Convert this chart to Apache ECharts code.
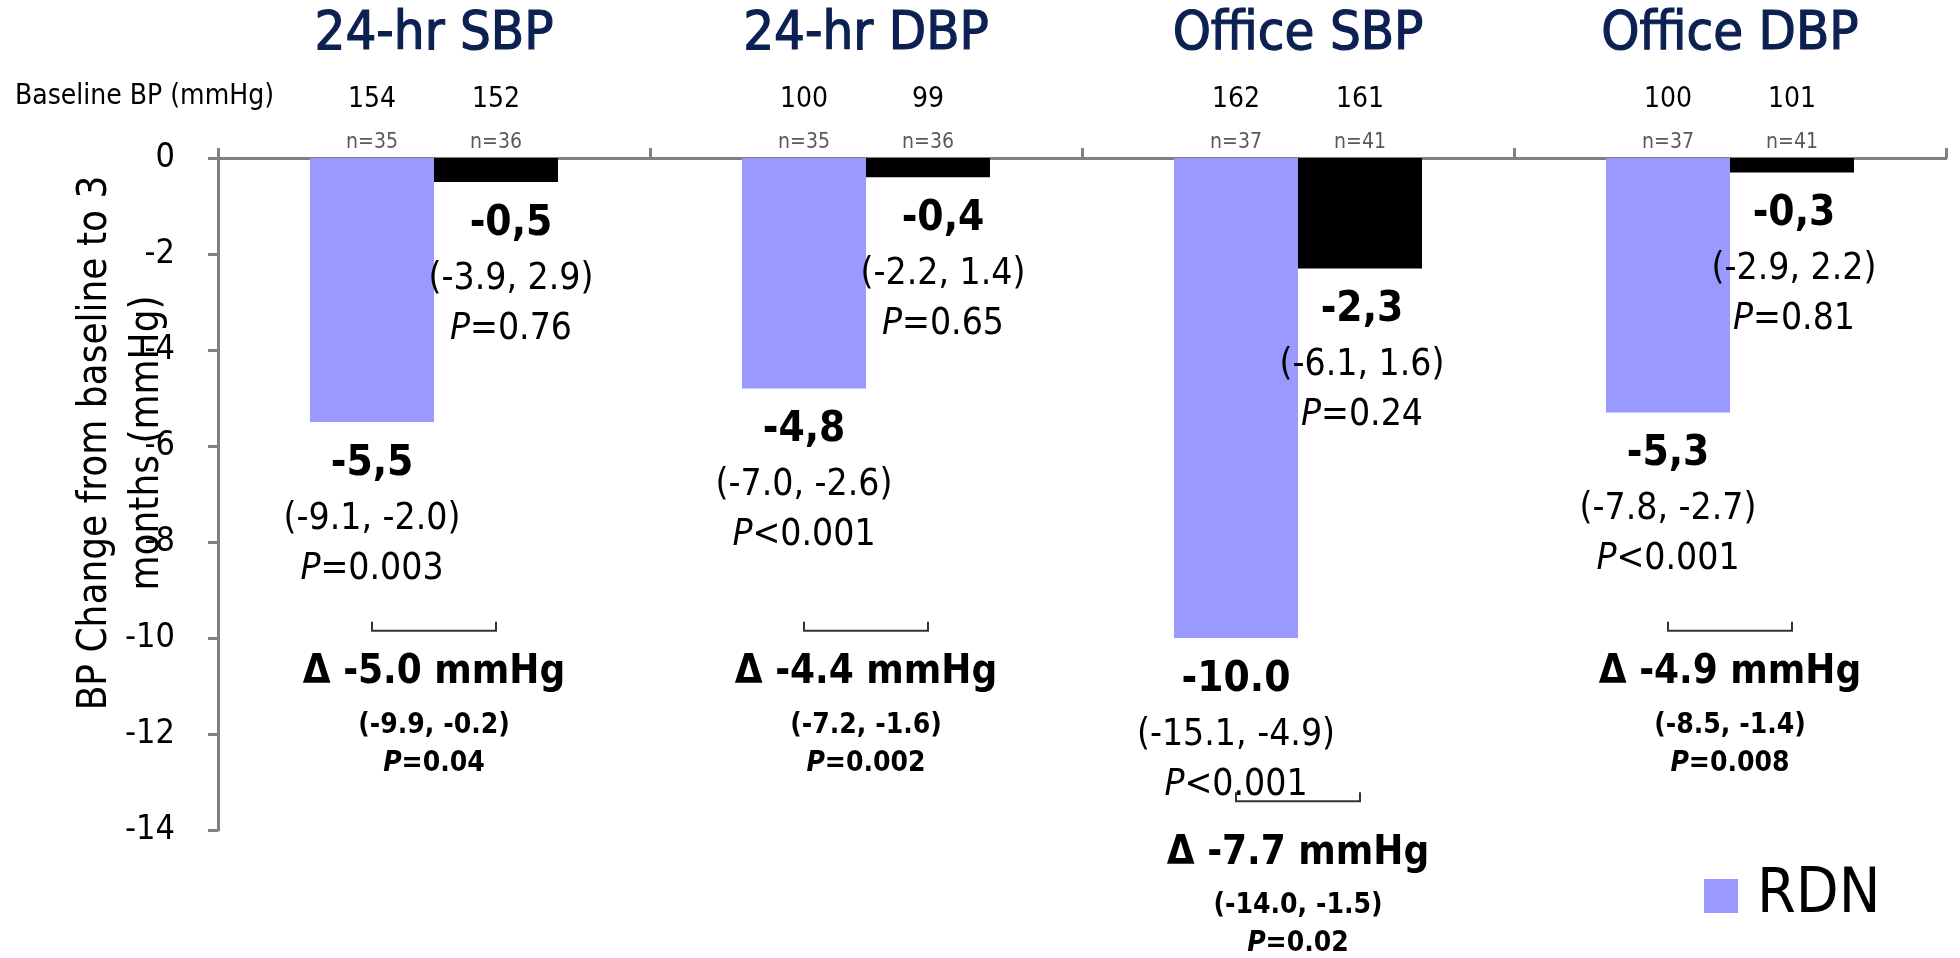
<!DOCTYPE html>
<html>
<head>
<meta charset="utf-8">
<script src="https://cdn.jsdelivr.net/npm/echarts@6/dist/echarts.min.js"></script>
<style>
  html, body { margin: 0; padding: 0; background: #ffffff; }
  #chart { width: 1960px; height: 958px; }
</style>
</head>
<body>
<div id="chart"></div>
<script>
// Blood pressure change from baseline to 3 months, RDN vs sham
const measures = ['24-hr SBP', '24-hr DBP', 'Office SBP', 'Office DBP'];
const baselineRdn = [154, 100, 162, 100];
const baselineSham = [152, 99, 161, 101];
const nRdn = [35, 35, 37, 37];
const nSham = [36, 36, 41, 41];

const rdnChangeText = ['-5,5', '-4,8', '-10.0', '-5,3'];
const shamChangeText = ['-0,5', '-0,4', '-2,3', '-0,3'];
const rdnCI = ['(-9.1, -2.0)', '(-7.0, -2.6)', '(-15.1, -4.9)', '(-7.8, -2.7)'];
const shamCI = ['(-3.9, 2.9)', '(-2.2, 1.4)', '(-6.1, 1.6)', '(-2.9, 2.2)'];
const rdnP = ['=0.003', '<0.001', '<0.001', '<0.001'];
const shamP = ['=0.76', '=0.65', '=0.24', '=0.81'];

const deltaText = ['-5.0', '-4.4', '-7.7', '-4.9'];
const deltaCI = ['(-9.9, -0.2)', '(-7.2, -1.6)', '(-14.0, -1.5)', '(-8.5, -1.4)'];
const deltaP = ['=0.04', '=0.002', '=0.02', '=0.008'];

const yMin = -14, yMax = 0, yStep = 2;

// numeric values come straight from the printed labels (decimal comma or point)
const toNum = s => parseFloat(s.replace(',', '.'));
const rdnChange = rdnChangeText.map(toNum);
const shamChange = shamChangeText.map(toNum);

const FONT = '"DejaVu Sans Condensed", "Liberation Sans Narrow", "Roboto", sans-serif';
const NAVY = '#0c2152';
const AXIS_GREY = '#808080';
const RDN_COLOR = '#9999ff';
const SHAM_COLOR = '#000000';
const BAR_FRACTION = 0.287;

function barLabel(vals, cis, ps) {
  return {
    show: true,
    position: 'bottom',
    distance: 12,
    formatter: p => `{v|${vals[p.dataIndex]}}\n{c|${cis[p.dataIndex]}}\n{i|P}{c|${ps[p.dataIndex]}}`,
    rich: {
      v: { fontFamily: FONT, fontSize: 42, fontWeight: 'bold', color: '#000', lineHeight: 60 },
      c: { fontFamily: FONT, fontSize: 37, color: '#000', lineHeight: 50 },
      i: { fontFamily: FONT, fontSize: 37, fontStyle: 'italic', color: '#000', lineHeight: 50 }
    }
  };
}

function txt(text, x, y, font, fill, rich) {
  const style = { text, x, y, align: 'center', verticalAlign: 'middle', textAlign: 'center', textVerticalAlign: 'middle', font, fill: fill || '#000' };
  if (rich) style.rich = rich;
  return { type: 'text', style };
}

// per-category header: baseline BP and group sizes above each bar
function renderHeader(params, api) {
  const i = api.value(0);
  const c = api.coord([i, 0]);
  const band = api.coord([1, 0])[0] - api.coord([0, 0])[0];
  const bw = band * BAR_FRACTION;
  const xr = c[0] - bw / 2, xs = c[0] + bw / 2;
  const y0 = c[1];
  return {
    type: 'group',
    children: [
      txt(String(baselineRdn[i]), xr, y0 - 58, `28px ${FONT}`),
      txt(String(baselineSham[i]), xs, y0 - 58, `28px ${FONT}`),
      txt('n=' + nRdn[i], xr, y0 - 15, `21px ${FONT}`, '#595959'),
      txt('n=' + nSham[i], xs, y0 - 15, `21px ${FONT}`, '#595959')
    ]
  };
}

// between-group difference: bracket joining the two bars plus delta, CI and P
function renderDelta(params, api) {
  const i = api.value(0);
  const c = api.coord([i, 0]);
  const band = api.coord([1, 0])[0] - api.coord([0, 0])[0];
  const bw = band * BAR_FRACTION;
  const xr = c[0] - bw / 2, xs = c[0] + bw / 2;
  const lowest = Math.min(rdnChange[i], shamChange[i]);
  const deep = lowest - 3.4 < -9.85;
  const level = deep ? lowest - 3.4 : -9.85;
  const yb = api.coord([i, level])[1];
  const extra = deep ? 10 : 0;
  const boldSmall = {
    i: { font: `italic bold 28px ${FONT}`, fill: '#000' },
    b: { font: `bold 28px ${FONT}`, fill: '#000' }
  };
  return {
    type: 'group',
    children: [
      {
        type: 'polyline',
        shape: { points: [[xr, yb - 9], [xr, yb], [xs, yb], [xs, yb - 9]] },
        style: { stroke: '#333333', lineWidth: 2, fill: null }
      },
      txt('\u0394 ' + deltaText[i] + ' mmHg', c[0], yb + 42 + extra, `bold 40px ${FONT}`),
      txt(deltaCI[i], c[0], yb + 95 + extra, `bold 28px ${FONT}`),
      txt(`{i|P}{b|${deltaP[i]}}`, c[0], yb + 133 + extra, `bold 28px ${FONT}`, '#000', boldSmall)
    ]
  };
}

const chart = echarts.init(document.getElementById('chart'), null, { renderer: 'canvas' });

chart.setOption({
  backgroundColor: '#ffffff',
  animation: false,
  textStyle: { fontFamily: FONT },
  grid: { left: 218, right: 14, top: 158, bottom: 128, containLabel: false },
  legend: {
    data: ['RDN'],
    left: 1699,
    top: 860,
    icon: 'rect',
    itemWidth: 34,
    itemHeight: 34,
    selectedMode: false,
    textStyle: { fontFamily: FONT, fontSize: 62, lineHeight: 62, color: '#000', padding: [0, 0, 0, 14] }
  },
  graphic: [{
    type: 'text',
    left: 15,
    top: 83,
    style: { text: 'Baseline BP (mmHg)', font: `28px ${FONT}`, fill: '#000' }
  }],
  xAxis: {
    type: 'category',
    position: 'top',
    data: measures,
    axisLine: { show: true, lineStyle: { color: AXIS_GREY, width: 3 } },
    axisTick: { show: true, length: 10, lineStyle: { color: AXIS_GREY, width: 3 } },
    axisLabel: {
      fontFamily: FONT, fontSize: 54, color: NAVY, margin: 96,
      textBorderColor: NAVY, textBorderWidth: 1.2
    }
  },
  yAxis: {
    type: 'value',
    min: yMin,
    max: yMax,
    interval: yStep,
    name: 'BP Change from baseline to 3\nmonths (mmHg)',
    nameLocation: 'middle',
    nameRotate: 90,
    nameGap: 44,
    nameMoveOverlap: false,
    nameTextStyle: { fontFamily: FONT, fontSize: 40, lineHeight: 52, color: '#000', padding: [0, 0, 0, 102] },
    axisLine: { show: true, lineStyle: { color: AXIS_GREY, width: 3 } },
    axisTick: { show: true, length: 10, lineStyle: { color: AXIS_GREY, width: 3 } },
    splitLine: { show: false },
    axisLabel: { fontFamily: FONT, fontSize: 34, color: '#000', margin: 43 }
  },
  series: [
    {
      name: 'RDN',
      type: 'bar',
      data: rdnChange,
      barWidth: (BAR_FRACTION * 100) + '%',
      barGap: '0%',
      itemStyle: { color: RDN_COLOR },
      label: barLabel(rdnChangeText, rdnCI, rdnP)
    },
    {
      name: 'Sham',
      type: 'bar',
      data: shamChange,
      barWidth: (BAR_FRACTION * 100) + '%',
      barGap: '0%',
      itemStyle: { color: SHAM_COLOR },
      label: barLabel(shamChangeText, shamCI, shamP),
      labelLayout: p => ({ dx: p.dataIndex < 2 ? 15 : 2 })
    },
    {
      name: 'header',
      type: 'custom',
      renderItem: renderHeader,
      data: measures.map((m, i) => [i, 0]),
      clip: false,
      silent: true,
      z: 5
    },
    {
      name: 'delta',
      type: 'custom',
      renderItem: renderDelta,
      data: measures.map((m, i) => [i, 0]),
      clip: false,
      silent: true,
      z: 5
    }
  ]
});
</script>
</body>
</html>
